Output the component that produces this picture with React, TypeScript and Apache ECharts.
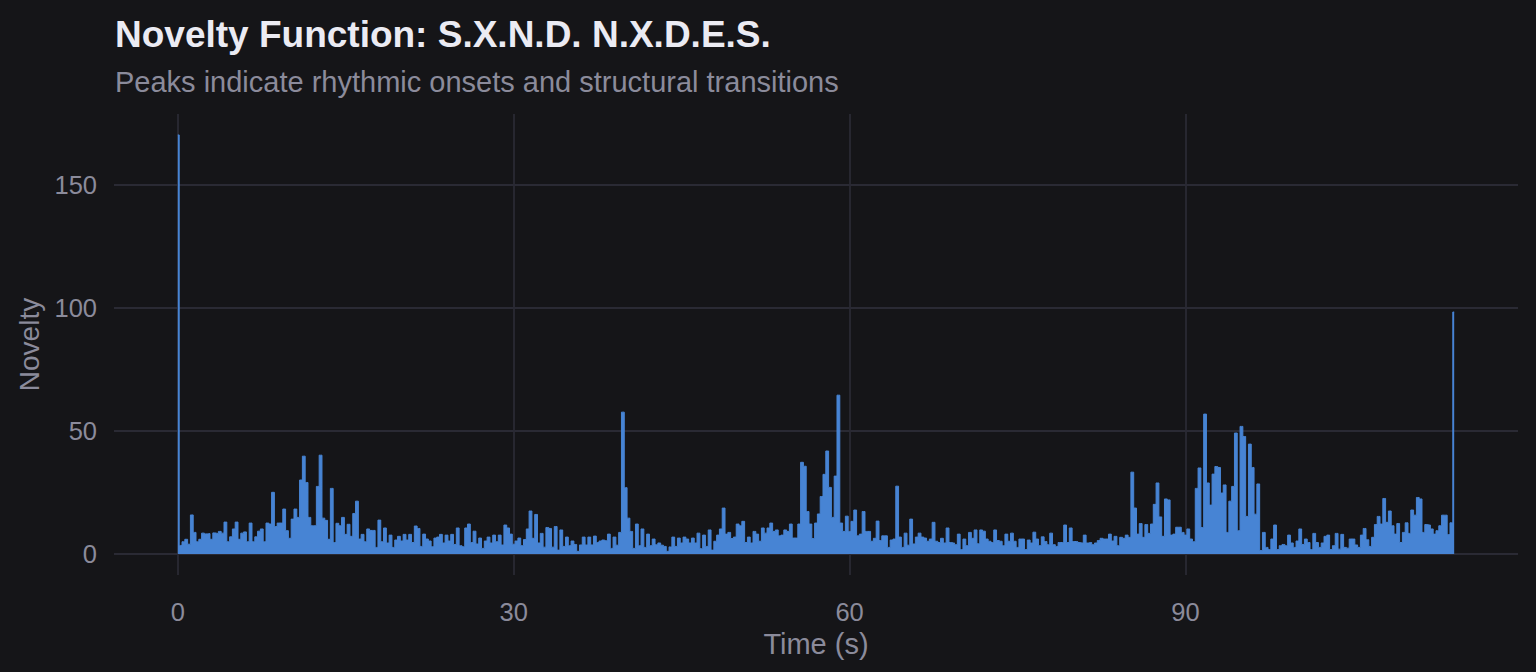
import React, { useEffect, useRef } from "react";
import * as echarts from "echarts";

const TITLE = "Novelty Function: S.X.N.D. N.X.D.E.S.";
const SUBTITLE = "Peaks indicate rhythmic onsets and structural transitions";
const X_NAME = "Time (s)";
const Y_NAME = "Novelty";
const X_TICKS = [0, 30, 60, 90];
const Y_TICKS = [0, 50, 100, 150];
const FRAME_STEP = 0.25; // seconds between novelty frames

// Novelty values, one per frame (0.25 s)
const novelty_0_18 = [
  170.4, 3.5, 5, 6, 4, 15.9, 8.8, 5, 6, 8.5, 8.2, 8.3, 6, 8.6, 8.4, 9.2,
  8.5, 13, 5, 7, 10.2, 13, 6, 8.5, 9, 5, 12.6, 5, 7, 9.3, 10.2, 5,
  12.6, 12.2, 25.1, 11.2, 12.6, 12.6, 18.3, 9.5, 6.4, 14.2, 18.3, 14.9, 30.1, 39.8, 29.1, 14.9,
  11.5, 11.5, 27.5, 40.2, 14.6, 13.7, 6, 26.7, 4.7, 12.5, 11.5, 14.9, 8, 12.1, 7.2, 16.5,
  21.5, 6.1, 8, 5, 10.2, 9.6, 9.6, 2.7, 13.8, 5, 10.6, 4.5,
];
const novelty_19_38 = [
  7.7, 2.7, 5.7, 7.2, 5.3, 8, 5.7, 8, 4.7, 11.4, 10.4, 3.1, 8.1, 6.1, 5.3, 3,
  6.5, 6.9, 8, 4.5, 7.7, 5.3, 8, 3.9, 10.6, 3.4, 3, 10.6, 12.2, 4.7, 9.3, 4.1,
  6.5, 2.3, 5.3, 6.9, 4.5, 7.7, 5, 7.7, 3.7, 11.8, 10.6, 8.1, 4, 5.3, 6.5, 3.4,
  5.9, 10.2, 17.5, 6.4, 16.1, 4.5, 8.4, 2.8, 10.8, 10.4, 2.8, 11.2, 1.6, 9.8, 3.1, 6.9,
  3.4, 5.3, 3.9, 1.1, 3.7, 6.9, 3.7, 6.9, 3.7, 7.3, 4.7, 5.3, 5.7,
];
const novelty_38_57 = [
  5.4, 8.1, 2.3, 6.9, 3.6, 8.8, 57.7, 27, 14.6, 9.2, 2.3, 12.2, 3.4, 10.2, 2.7, 8.1,
  3.4, 6.1, 3.8, 4.5, 3.6, 3.1, 1.1, 2.9, 6.9, 3.1, 6.5, 4.5, 6.9, 6.1, 4.5, 6.5,
  4.5, 8.5, 2.2, 7.7, 3.1, 9.8, 1.6, 5.2, 7.7, 10.2, 18.7, 8.1, 8.8, 6.3, 6.9, 12.2,
  11.5, 13.3, 4.7, 6.9, 4.5, 9.2, 8.1, 5.2, 10.6, 8.5, 10.6, 12.6, 9.2, 9.8, 7.4, 7.7,
  9.8, 9.2, 12.2, 6.5, 6.5, 12.2, 37.3, 35.7, 17.3, 12.2, 6.3, 12.6, 16.3,
];
const novelty_57_76 = [
  23.4, 32.4, 41.9, 27.1, 14.9, 31.7, 64.6, 12.6, 9.2, 15.4, 9.2, 13.3, 17.9, 7.4, 8.1, 17.3,
  9.2, 9.2, 5.2, 6.4, 13.4, 5.5, 7.4, 7.4, 2.7, 5.7, 6.1, 27.6, 6.9, 2.7, 8.5, 3.6,
  14.2, 4.1, 6.9, 8.5, 6.9, 6.5, 5.2, 6.1, 12.9, 5.2, 4.7, 6.4, 4.5, 10.6, 4.7, 4.5,
  3.8, 8.1, 1.8, 6.1, 3.4, 8.8, 6.4, 9.8, 4.2, 9.8, 9.3, 6.1, 5.2, 4.7, 9.8, 5.5,
  5.2, 3.4, 8.1, 5.2, 8.5, 5.2, 2.7, 6.1, 6.1, 1.8, 5.7, 4.5, 8.9,
];
const novelty_76_95 = [
  6.1, 3.4, 7, 5.1, 3.8, 8.5, 3.8, 3.1, 4.7, 4.7, 11.8, 4.7, 10.6, 5.1, 5.1, 4.7,
  4.5, 7.7, 4.5, 4.7, 3.8, 4.5, 5.5, 6.4, 6.1, 6.1, 8.1, 5.3, 7.2, 3.4, 6.8, 6.4,
  7.7, 6.8, 33.3, 18.7, 8.1, 12.4, 6.8, 12, 8.4, 12.2, 20.2, 28.9, 15.1, 7.2, 22.4, 22,
  7.7, 8.1, 10.9, 10.9, 8.8, 7.7, 10.2, 6.1, 5, 26.7, 35, 10.8, 56.9, 28.9, 19.9, 32.5,
  35.6, 35.2, 24.8, 28.1, 8.8, 21.5, 27.5, 49.2, 9.5, 51.9, 47.8, 15.3, 44.7,
];
const novelty_96_114 = [
  35.2, 16.2, 28.5, 1.4, 8.8, 2.7, 1.8, 6.1, 11.8, 1.8, 3.4, 3.9, 3.4, 7.7, 4.5, 2.7,
  5.3, 10.2, 3.9, 6.1, 4.7, 1.8, 8.4, 4.7, 2.7, 4.5, 7.2, 7.7, 1.8, 3.4, 8.4, 2,
  8, 2.7, 2.4, 6.1, 6.1, 3.7, 2.7, 7.7, 10.4, 5.8, 3.1, 6.8, 12, 15.3, 12.2, 22.6,
  12.9, 17.5, 11.5, 8.1, 12.4, 4.7, 8.8, 12.7, 8.4, 17.9, 15.8, 23, 22.4, 8.8, 12, 11.8,
  10.2, 8.1, 9.5, 11.5, 15.8, 15.8, 7.9, 12.7, 98.4,
];

const BG = "#151518";
const BLUE = "#4784d4";
const GRID = "#2a2a34";
const MUTED = "#8b8b9b";
const FONT = "Liberation Sans, Arial, sans-serif";

export default function App() {
  const ref = useRef<HTMLDivElement>(null);

  useEffect(() => {
    document.body.style.margin = "0";
    document.body.style.background = BG;
    if (!ref.current) return;
    const chart = echarts.init(ref.current, null, { renderer: "svg" });

    const values = [
      ...novelty_0_18,
      ...novelty_19_38,
      ...novelty_38_57,
      ...novelty_57_76,
      ...novelty_76_95,
      ...novelty_96_114,
    ];
    const data = values.map((v, i) => [i * FRAME_STEP, v]);
    const xEnd = (values.length - 1) * FRAME_STEP;
    const yTop = Math.max(...values);
    const xPad = xEnd * 0.05;
    const yPad = yTop * 0.05;

    chart.setOption({
      animation: false,
      backgroundColor: BG,
      title: [
        {
          text: TITLE,
          left: 110,
          top: 11,
          textStyle: { color: "#ebebf3", fontSize: 37, fontWeight: "bold", fontFamily: FONT },
        },
        {
          text: SUBTITLE,
          left: 110,
          top: 62,
          textStyle: { color: MUTED, fontSize: 29, fontWeight: "normal", fontFamily: FONT },
        },
      ],
      grid: { left: 114, right: 18, top: 114, bottom: 97, containLabel: false },
      xAxis: {
        type: "value",
        min: -xPad,
        max: xEnd + xPad,
        name: X_NAME,
        nameLocation: "middle",
        nameGap: 42,
        nameTextStyle: { color: MUTED, fontSize: 29, fontFamily: FONT },
        axisLine: { show: false },
        axisTick: { show: false, customValues: X_TICKS },
        axisLabel: {
          customValues: X_TICKS,
          color: MUTED,
          fontSize: 25.5,
          fontFamily: FONT,
          margin: 24,
        },
        splitLine: { show: true, lineStyle: { color: GRID, width: 1.8 } },
      },
      yAxis: {
        type: "value",
        min: -yPad,
        max: yTop + yPad,
        name: Y_NAME,
        nameLocation: "middle",
        nameGap: 70,
        nameRotate: 90,
        nameTextStyle: { color: MUTED, fontSize: 28, fontFamily: FONT },
        axisLine: { show: false },
        axisTick: { show: false, customValues: Y_TICKS },
        axisLabel: {
          customValues: Y_TICKS,
          color: MUTED,
          fontSize: 25.5,
          fontFamily: FONT,
          margin: 17,
        },
        splitLine: { show: true, lineStyle: { color: GRID, width: 1.8 } },
      },
      series: [
        {
          type: "line",
          data,
          step: "middle",
          showSymbol: false,
          symbol: "none",
          lineStyle: { color: BLUE, width: 1 },
          areaStyle: { color: BLUE, opacity: 1, origin: 0 },
          z: 3,
        },
      ],
    });

    return () => chart.dispose();
  }, []);

  return <div ref={ref} style={{ width: 1536, height: 672 }} />;
}
